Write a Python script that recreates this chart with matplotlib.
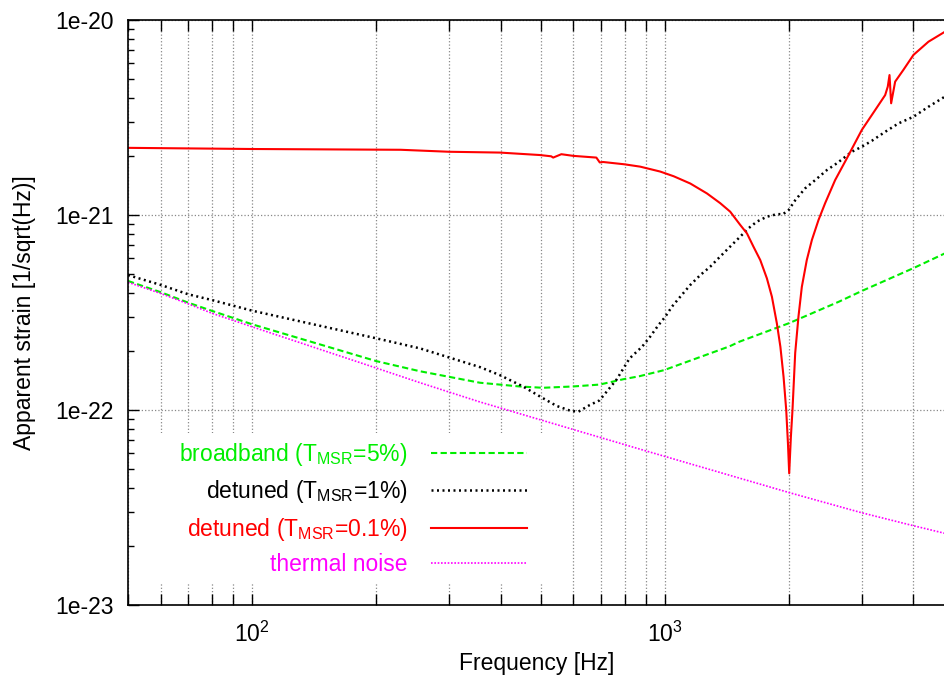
import numpy as np
import matplotlib
matplotlib.use("Agg")
import matplotlib.pyplot as plt
from matplotlib.patches import Rectangle

plt.rcParams['font.family'] = ['Liberation Sans', 'DejaVu Sans']
plt.rcParams['mathtext.default'] = 'regular'
plt.rcParams['font.size'] = 16.5

# values (Hz, 1/sqrt(Hz))
f_broad = [50, 60, 70, 80, 100, 200, 255, 356, 445, 506, 598, 694, 795, 867,
           994, 1433, 1515, 2000, 2637, 3000, 4000, 4770]
h_broad = [4.59e-22, 4.02e-22, 3.55e-22, 3.22e-22, 2.75e-22, 1.78e-22, 1.58e-22,
           1.38e-22, 1.32e-22, 1.30e-22, 1.32e-22, 1.35e-22, 1.44e-22, 1.49e-22,
           1.60e-22, 2.12e-22, 2.24e-22, 2.79e-22, 3.59e-22, 4.08e-22, 5.34e-22,
           6.36e-22]

f_det1 = [50, 60, 70, 80, 100, 200, 255, 356, 398, 453, 499, 546, 590, 617, 657,
          694, 763, 821, 880, 921, 965, 1002, 1040, 1089, 1152, 1218, 1287, 1348,
          1425, 1507, 1594, 1670, 1766, 1867, 1932, 1993, 2068, 2186, 2312, 2468,
          2608, 2836, 3000, 3170, 3416, 3680, 4000, 4350, 4770]
h_det1 = [4.92e-22, 4.38e-22, 3.92e-22, 3.66e-22, 3.23e-22, 2.33e-22, 2.07e-22,
          1.66e-22, 1.51e-22, 1.32e-22, 1.17e-22, 1.05e-22, 9.91e-23, 9.8e-23,
          1.06e-22, 1.12e-22, 1.43e-22, 1.84e-22, 2.11e-22, 2.38e-22, 2.73e-22,
          3.01e-22, 3.39e-22, 3.81e-22, 4.38e-22, 4.92e-22, 5.43e-22, 6.0e-22,
          6.75e-22, 7.59e-22, 8.55e-22, 9.25e-22, 9.8e-22, 1.01e-21, 1.01e-21,
          1.06e-21, 1.19e-21, 1.37e-21, 1.51e-21, 1.70e-21, 1.84e-21, 2.11e-21,
          2.24e-21, 2.40e-21, 2.67e-21, 2.95e-21, 3.19e-21, 3.59e-21, 4.05e-21]

f_det01 = [50, 100, 229, 300, 398, 498, 530, 536, 561, 600, 682, 695, 708, 797,
           871, 974, 1050, 1152, 1264, 1361, 1439, 1522, 1580, 1639, 1702, 1766,
           1816, 1867, 1904, 1938, 1967, 1986, 2000, 2019, 2037, 2068, 2106, 2146,
           2206, 2270, 2355, 2444, 2584, 2758, 2999, 3230, 3416, 3466, 3500, 3532,
           3612, 3782, 4000, 4350, 4770]
h_det01 = [2.21e-21, 2.18e-21, 2.16e-21, 2.11e-21, 2.09e-21, 2.03e-21, 2.00e-21,
           1.97e-21, 2.05e-21, 2.01e-21, 1.97e-21, 1.86e-21, 1.87e-21, 1.82e-21,
           1.77e-21, 1.67e-21, 1.58e-21, 1.45e-21, 1.29e-21, 1.15e-21, 1.04e-21,
           8.89e-22, 8.05e-22, 6.87e-22, 5.87e-22, 4.73e-22, 3.81e-22, 2.78e-22,
           2.11e-22, 1.48e-22, 1.0e-22, 6.75e-23, 4.73e-23, 7.3e-23, 1.0e-22,
           1.96e-22, 3.01e-22, 4.28e-22, 5.87e-22, 7.45e-22, 9.42e-22, 1.15e-21,
           1.51e-21, 1.95e-21, 2.73e-21, 3.45e-21, 4.12e-21, 4.55e-21, 5.22e-21,
           3.74e-21, 4.83e-21, 5.55e-21, 6.62e-21, 7.74e-21, 8.71e-21]

f_therm = [50, 60, 70, 80, 100, 200, 255, 356, 867, 2000, 3000, 4000, 4770]
h_therm = [4.52e-22, 3.96e-22, 3.50e-22, 3.13e-22, 2.67e-22, 1.64e-22, 1.38e-22,
           1.10e-22, 6.31e-23, 3.77e-23, 2.97e-23, 2.55e-23, 2.33e-23]

labels = [r'broadband (T$_{MSR}$=5%)', r'detuned (T$_{MSR}$=1%)',
          r'detuned (T$_{MSR}$=0.1%)', 'thermal noise']

fig = plt.figure(figsize=(9.45, 6.81), dpi=100)
ax = fig.add_axes([128 / 945, 1 - 605 / 681, 1 - 128 / 945, 585 / 681])

ax.plot(f_broad, h_broad, color='#00ee00', lw=1.5, ls=(0, (3, 1.6)), label=labels[0])
ax.plot(f_det1, h_det1, color='black', lw=1.8, ls=(0, (0.8, 1.4)), label=labels[1])
ax.plot(f_det01, h_det01, color='#ff0000', lw=1.5, label=labels[2])
ax.plot(f_therm, h_therm, color='#ff00ff', lw=1.2, ls=(0, (1, 1)), label=labels[3])

ax.set_xscale('log')
ax.set_yscale('log')
ax.set_xlim(50, 4770)
ax.set_ylim(1e-23, 1e-20)

ax.set_yticks([1e-23, 1e-22, 1e-21, 1e-20])
ax.set_yticklabels(['1e-23', '1e-22', '1e-21', '1e-20'])

ax.grid(True, which='major', axis='both', color='#888888', ls=':', lw=0.9)
ax.grid(True, which='minor', axis='x', color='#888888', ls=':', lw=0.9)
ax.tick_params(which='both', direction='in', top=True, right=False)
ax.tick_params(which='major', length=8, width=1, pad=10)
ax.tick_params(axis='x', which='minor', length=8, width=1)
ax.tick_params(axis='y', which='minor', length=4, width=1)
ax.tick_params(axis='x', which='major', pad=12)
ax.spines['right'].set_visible(False)
for s in ['left', 'bottom', 'top']:
    ax.spines[s].set_linewidth(1.2)

ax.set_xlabel('Frequency [Hz]', labelpad=4)
ax.set_ylabel('Apparent strain [1/sqrt(Hz)]', labelpad=14)

# opaque key area (hides the grid behind the key, like gnuplot's "key opaque")
ax.add_patch(Rectangle((0.014, 0.036), 0.51, 0.258, transform=ax.transAxes,
                       facecolor='white', edgecolor='none', zorder=1.6))

leg = ax.legend(loc='lower right', bbox_to_anchor=(0.505, 0.026),
                markerfirst=False, frameon=False,
                handlelength=4.2, handletextpad=1.0, labelspacing=0.45,
                borderpad=0.6, borderaxespad=0)
leg.set_zorder(5)
for txt, ln in zip(leg.get_texts(), leg.get_lines()):
    txt.set_color(ln.get_color())

fig.savefig('out.png', dpi=100)
